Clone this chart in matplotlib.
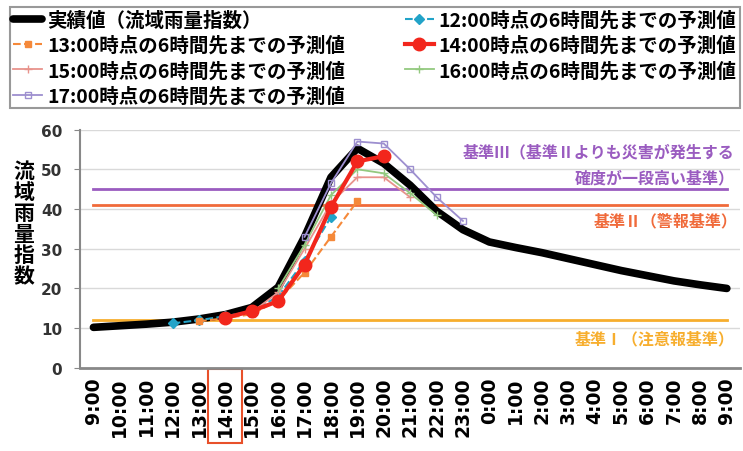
import matplotlib
matplotlib.use('Agg')
import matplotlib.pyplot as plt

plt.rcParams['font.family'] = ['Noto Sans CJK JP', 'DejaVu Sans']

# time axis, 9:00 to 9:00 next day
hours = [f'{h}:00' for h in list(range(9, 24)) + list(range(0, 10))]

# observed index
actual = [10.2, 10.6, 11.0, 11.5, 12.3, 13.4, 15.2, 20.3, 33.0, 48.0, 55.3, 51.5,
          46.0, 39.5, 34.8, 31.7, 30.3, 29.0, 27.5, 26.0, 24.5, 23.2, 21.9, 20.9, 20.0]

# forecasts: start index into hours, values for 6 hours ahead
fc12_start, fc12 = 3, [11.2, 12.0, 13.0, 14.2, 18.0, 27.0, 38.0]
fc13_start, fc13 = 4, [11.7, 12.5, 13.5, 17.0, 24.0, 33.0, 42.0]
fc14_start, fc14 = 5, [12.6, 14.3, 16.8, 26.0, 40.5, 52.0, 53.3]
fc15_start, fc15 = 6, [14.0, 19.0, 30.0, 41.5, 48.0, 48.0, 43.0]
fc16_start, fc16 = 7, [20.0, 31.0, 43.5, 50.0, 49.0, 44.0, 38.5]
fc17_start, fc17 = 8, [33.0, 46.5, 57.0, 56.5, 50.0, 43.0, 37.0]

# thresholds
level1 = 12
level2 = 41
level3 = 45

c_lv1 = '#f7ae2e'
c_lv2 = '#f06a3a'
c_lv3 = '#9a5cc0'

fig = plt.figure(figsize=(7.43, 4.52), dpi=100)
ax = fig.add_axes([0.108, 0.184, 0.888, 0.527])

x = list(range(len(hours)))

ax.plot(x, [level3] * len(x), color=c_lv3, lw=2, zorder=2)
ax.plot(x, [level2] * len(x), color=c_lv2, lw=2, zorder=2)
ax.plot(x, [level1] * len(x), color=c_lv1, lw=2, zorder=2)

h_act, = ax.plot(x, actual, color='black', lw=5.5, solid_capstyle='round',
                 solid_joinstyle='round', zorder=3, label='実績値（流域雨量指数）')


def fx(start, vals):
    return list(range(start, start + len(vals)))


h12, = ax.plot(fx(fc12_start, fc12), fc12, color='#22a3c8', lw=1.5, ls='--',
               marker='D', ms=5, zorder=4, label='12:00時点の6時間先までの予測値')
h13, = ax.plot(fx(fc13_start, fc13), fc13, color='#f5893a', lw=1.5, ls='--',
               marker='s', ms=4, zorder=4, label='13:00時点の6時間先までの予測値')
h15, = ax.plot(fx(fc15_start, fc15), fc15, color='#e8938c', lw=1.3,
               marker='+', ms=6, zorder=4, label='15:00時点の6時間先までの予測値')
h16, = ax.plot(fx(fc16_start, fc16), fc16, color='#93c97f', lw=1.3,
               marker='+', ms=6, zorder=4, label='16:00時点の6時間先までの予測値')
h17, = ax.plot(fx(fc17_start, fc17), fc17, color='#9d8fcf', lw=1.3,
               marker='s', ms=4, mfc='none', zorder=4, label='17:00時点の6時間先までの予測値')
h14, = ax.plot(fx(fc14_start, fc14), fc14, color='#f2261c', lw=3,
               marker='o', ms=9, zorder=5, label='14:00時点の6時間先までの予測値')

ax.set_xlim(-0.5, len(x) - 0.5)
ax.set_ylim(0, 60)
ax.set_yticks(range(0, 61, 10))
ax.set_xticks(x)
ax.set_xticklabels(hours, rotation=90, fontsize=13.5, fontweight='bold',
                   family=['DejaVu Sans'])
ax.tick_params(axis='x', length=0, pad=6)
ax.tick_params(axis='y', direction='out', length=4, color='#888888', pad=9,
               labelsize=11, labelcolor='#333333')
for lab in ax.get_yticklabels():
    lab.set_fontweight('bold')
    lab.set_family(['DejaVu Sans'])

ax.grid(axis='y', color='#d9d9d9', lw=1)
ax.set_axisbelow(True)
for s in ['top', 'right']:
    ax.spines[s].set_visible(False)
ax.spines['left'].set_color('#888888')
ax.spines['left'].set_linewidth(1.5)
ax.spines['bottom'].set_color('#888888')
ax.spines['bottom'].set_linewidth(2)

# box around 14:00 label
ax.get_xticklabels()[5].set_bbox(dict(boxstyle='square,pad=0.4', facecolor='none',
                                      edgecolor='#e8502a', lw=1.5))

# threshold labels
ax.text(24.3, 54.5, '基準Ⅲ（基準Ⅱよりも災害が発生する', color=c_lv3, fontsize=11.5,
        fontweight='bold', ha='right', va='center')
ax.text(24.3, 48.0, '確度が一段高い基準）', color=c_lv3, fontsize=11.5,
        fontweight='bold', ha='right', va='center')
ax.text(24.4, 37.2, '基準Ⅱ（警報基準）', color=c_lv2, fontsize=11.5,
        fontweight='bold', ha='right', va='center')
ax.text(24.3, 7.5, '基準Ⅰ（注意報基準）', color=c_lv1, fontsize=11.5,
        fontweight='bold', ha='right', va='center')

fig.text(0.032, 0.505, '流\n域\n雨\n量\n指\n数', fontsize=15, fontweight='bold',
         ha='center', va='center', linespacing=1.0)

handles = [h_act, h13, h15, h17, h12, h14, h16]
leg = fig.legend(handles=handles, labels=[h.get_label() for h in handles],
                 ncol=2, loc='upper left', bbox_to_anchor=(0.0135, 0.0, 0.982, 0.982),
                 mode='expand', borderaxespad=0, prop={'weight': 'bold', 'size': 14},
                 labelspacing=0.3, handlelength=1.5, handletextpad=0.25, borderpad=0.15,
                 fancybox=False, edgecolor='#999999', framealpha=1)
leg.get_frame().set_linewidth(1.5)

fig.savefig('out.png', dpi=100)
